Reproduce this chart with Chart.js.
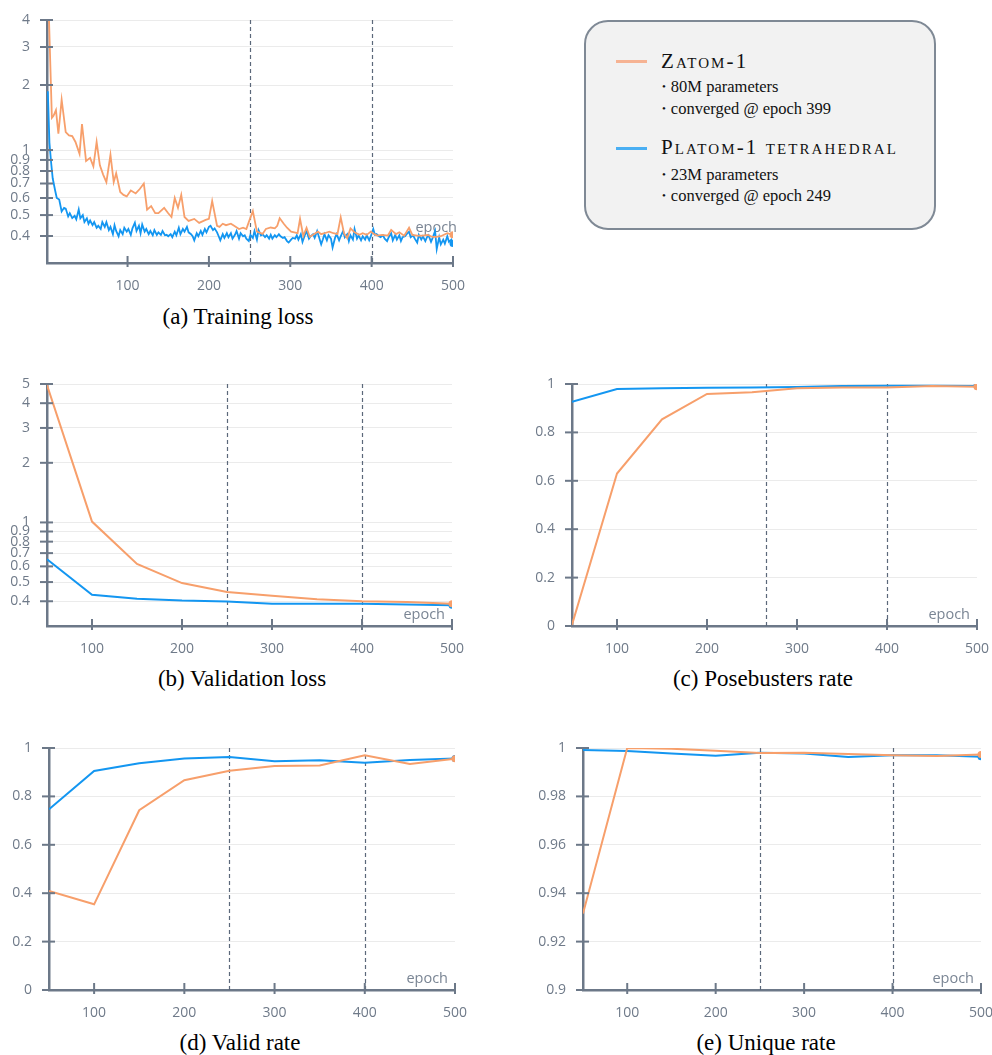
<!DOCTYPE html>
<html>
<head>
<meta charset="utf-8">
<script src="https://cdn.jsdelivr.net/npm/chart.js@4.4.1/dist/chart.umd.min.js"></script>
<style>
  body { margin:0; background:#fff; width:992px; height:1055px; position:relative; overflow:hidden; }
  .panel { position:absolute; }
  .cap { position:absolute; font-family:"Liberation Serif", serif; font-size:23px; line-height:1; color:#000; white-space:nowrap; transform:translateX(-50%); }
  #legendBox { position:absolute; left:584px; top:20px; width:352px; height:210px; box-sizing:border-box; background:#f2f2f2; border:2px solid #7f8995; border-radius:24px; }
  .lg { position:absolute; font-family:"Liberation Serif", serif; line-height:1; color:#111; white-space:nowrap; }
  .name { font-size:21px; font-variant:small-caps; letter-spacing:2.1px; }
  .item { font-size:16.5px; }
  .dot { font-size:11px; position:relative; top:-2px; margin-right:5px; }
  .swatch { position:absolute; left:616px; width:31px; height:3px; }
</style>
</head>
<body>
<div class="panel" style="left:0;top:0"><canvas id="trainLoss" width="470" height="300"></canvas></div>
<div class="panel" style="left:0;top:360px"><canvas id="valLoss" width="470" height="300"></canvas></div>
<div class="panel" style="left:510px;top:360px"><canvas id="pose" width="482" height="300"></canvas></div>
<div class="panel" style="left:0;top:725px"><canvas id="valid" width="470" height="300"></canvas></div>
<div class="panel" style="left:510px;top:725px"><canvas id="unique" width="482" height="300"></canvas></div>

<div class="cap" style="left:238px;top:305px">(a) Training loss</div>
<div class="cap" style="left:242px;top:667px">(b) Validation loss</div>
<div class="cap" style="left:763px;top:667px">(c) Posebusters rate</div>
<div class="cap" style="left:240px;top:1031px">(d) Valid rate</div>
<div class="cap" style="left:766px;top:1031px">(e) Unique rate</div>

<div id="legendBox"></div>
<div class="swatch" style="top:60px;background:#f6b393"></div>
<div class="lg name" style="left:661px;top:51px">Zatom-1</div>
<div class="lg item" style="left:662px;top:79px"><span class="dot">•</span>80M parameters</div>
<div class="lg item" style="left:662px;top:101px"><span class="dot">•</span>converged @ epoch 399</div>
<div class="swatch" style="top:147px;background:#4aaff3"></div>
<div class="lg name" style="left:661px;top:137px">Platom-1 tetrahedral</div>
<div class="lg item" style="left:662px;top:167px"><span class="dot">•</span>23M parameters</div>
<div class="lg item" style="left:662px;top:188px"><span class="dot">•</span>converged @ epoch 249</div>

<script>
// training loss, Zatom-1 (orange)
const trainEpochsZ = [3,7,9,12,15,19,24,28,32,36,41,44,49,54,58,62,66,70,74,79,83,86,91,95,99,104,110,115,120,124,129,134,138,145,150,154,158,162,166,170,175,182,188,196,200,204,210,213,217,221,227,231,237,242,246,249,254,259,266,270,276,281,284,287,292,296,301,305,309,312,316,320,324,329,334,338,342,348,353,358,362,366,370,374,379,385,389,394,399,403,407,413,420,424,430,434,440,446,450,456,463,469,475,479,485,493,500];
const trainLossZ = [4.6,1.41,1.44,1.53,1.19,1.71,1.21,1.17,1.16,1.09,0.96,1.32,0.89,0.92,0.84,1.09,0.85,0.77,0.71,0.95,0.71,0.78,0.64,0.62,0.61,0.65,0.63,0.66,0.70,0.53,0.55,0.51,0.51,0.54,0.51,0.49,0.60,0.54,0.62,0.49,0.47,0.48,0.46,0.475,0.48,0.58,0.446,0.441,0.456,0.449,0.456,0.446,0.431,0.437,0.431,0.464,0.522,0.419,0.409,0.431,0.438,0.434,0.446,0.484,0.456,0.437,0.419,0.416,0.412,0.48,0.40,0.437,0.396,0.408,0.419,0.408,0.412,0.419,0.412,0.408,0.488,0.412,0.391,0.434,0.416,0.405,0.412,0.405,0.419,0.408,0.402,0.405,0.402,0.427,0.408,0.416,0.401,0.437,0.405,0.402,0.402,0.405,0.396,0.396,0.399,0.412,0.405];

// training loss, Platom-1 (blue)
const trainEpochsP = [2,4,6,8,11,13,16,19,22,24,27,29,32,35,37,40,42,45,47,50,52,54,57,59,62,64,67,69,72,74,77,79,82,84,86,89,91,94,96,99,101,104,106,109,111,114,116,118,121,123,126,128,131,133,136,138,141,143,146,148,150,153,155,158,160,163,165,168,170,173,175,178,180,
  182,185,187,190,192,195,197,200,202,205,207,210,212,214,217,219,222,224,227,229,232,234,237,239,242,244,246,249,251,254,256,259,261,264,266,269,271,274,276,278,281,283,286,288,291,293,296,298,
  301,303,306,308,310,313,315,318,320,323,325,328,330,333,335,338,340,342,345,347,350,352,355,357,360,362,365,367,370,372,374,377,379,382,384,387,389,392,394,397,399,
  402,404,406,409,411,414,416,419,421,424,426,429,431,434,436,438,441,443,446,448,451,453,456,458,461,463,466,468,470,473,475,478,480,483,485,488,490,493,495,498,500];
const trainLossP = [1.87,1.08,0.88,0.74,0.65,0.60,0.59,0.52,0.54,0.536,0.493,0.51,0.484,0.496,0.478,0.531,0.483,0.50,0.464,0.483,0.456,0.472,0.449,0.464,0.437,0.446,0.431,0.464,0.441,0.464,0.426,0.441,0.408,0.449,0.422,0.399,0.426,0.408,0.437,0.419,0.431,0.405,0.434,0.461,0.422,0.446,0.412,0.452,0.419,0.431,0.408,0.422,0.403,0.426,0.405,0.416,0.405,0.422,0.403,0.405,0.399,0.408,0.395,0.419,0.403,0.437,0.408,0.431,0.419,0.441,0.416,0.408,0.399,
  0.382,0.412,0.399,0.422,0.405,0.431,0.416,0.441,0.446,0.426,0.434,0.416,0.399,0.382,0.408,0.392,0.412,0.395,0.412,0.389,0.405,0.422,0.389,0.412,0.399,0.403,0.389,0.379,0.405,0.392,0.422,0.385,0.426,0.403,0.408,0.395,0.403,0.389,0.405,0.389,0.403,0.395,0.408,0.399,0.392,0.395,0.379,0.373,
  0.385,0.392,0.389,0.403,0.385,0.408,0.376,0.405,0.422,0.389,0.399,0.408,0.392,0.422,0.399,0.366,0.385,0.408,0.382,0.403,0.389,0.354,0.392,0.408,0.382,0.399,0.422,0.395,0.408,0.379,0.403,0.385,0.431,0.389,0.403,0.382,0.399,0.385,0.403,0.382,0.399,
  0.431,0.405,0.408,0.399,0.395,0.403,0.389,0.379,0.395,0.412,0.382,0.405,0.385,0.403,0.379,0.395,0.399,0.408,0.419,0.395,0.403,0.389,0.373,0.405,0.385,0.399,0.379,0.395,0.403,0.376,0.392,0.422,0.348,0.395,0.366,0.385,0.369,0.399,0.376,0.385,0.369];

// evaluation every 50 epochs
const evalEpochs = [50,100,150,200,250,300,350,400,450,500];
const valLossZ = [4.94,1.01,0.617,0.494,0.446,0.426,0.41,0.40,0.397,0.389];
const valLossP = [0.652,0.431,0.412,0.403,0.399,0.389,0.389,0.388,0.385,0.382];
const poseZ = [0.005,0.630,0.854,0.959,0.966,0.982,0.986,0.986,0.992,0.989];
const poseP = [0.926,0.979,0.982,0.985,0.986,0.988,0.992,0.993,0.993,0.992];
const validZ = [0.409,0.354,0.743,0.867,0.906,0.926,0.928,0.970,0.934,0.956];
const validP = [0.747,0.905,0.937,0.957,0.963,0.945,0.949,0.939,0.950,0.957];
const uniqueZ = [0.9316,1.0,0.9997,0.9989,0.9979,0.998,0.9975,0.997,0.9967,0.9973];
const uniqueP = [0.9992,0.9988,0.9977,0.9968,0.998,0.9977,0.9963,0.997,0.997,0.9964];

// ticks and markers
const epochTicks = [100,200,300,400,500];
const trainLossTicks = [0.4,0.5,0.6,0.7,0.8,0.9,1,2,3,4];
const valLossTicks = [0.4,0.5,0.6,0.7,0.8,0.9,1,2,3,4,5];
const rateTicks = [0,0.2,0.4,0.6,0.8,1];
const uniqueTicks = [0.9,0.92,0.94,0.96,0.98,1];
const convergedMarks = [250,400];
const poseMarks = [266,400];

const ZATOM = '#f79f6b';
const PLATOM = '#1396f1';
const AXIS = '#6c7888';
const TICK = '#6f7a89';

function pairs(xs, ys) {
  return xs.map((x, i) => ({x: x, y: ys[i]}));
}

function lineSet(label, xs, ys, color, width) {
  return {
    label: label,
    data: pairs(xs, ys),
    borderColor: color,
    backgroundColor: color,
    borderWidth: width,
    tension: 0,
    fill: false,
    pointRadius: ctx => ctx.dataIndex === ys.length - 1 ? 3.5 : 0,
    pointBorderWidth: 0,
    pointHoverRadius: 0
  };
}

// dashed epoch markers, "epoch" label and ticks crossing the axes
const panelDecor = {
  id: 'panelDecor',
  beforeDatasetsDraw(chart, args, opts) {
    const ctx = chart.ctx, a = chart.chartArea, x = chart.scales.x;
    ctx.save();
    ctx.strokeStyle = '#5b687a';
    ctx.lineWidth = 1.2;
    ctx.setLineDash([4, 3]);
    (opts.marks || []).forEach(m => {
      const px = Math.round(x.getPixelForValue(m)) + 0.5;
      ctx.beginPath(); ctx.moveTo(px, a.top); ctx.lineTo(px, a.bottom); ctx.stroke();
    });
    ctx.setLineDash([]);
    ctx.font = '14.5px "Open Sans"';
    ctx.textAlign = 'right';
    ctx.textBaseline = 'alphabetic';
    const tx = a.right + opts.dx, ty = a.bottom + opts.dy;
    const w = ctx.measureText('epoch').width;
    ctx.fillStyle = '#fff';
    ctx.fillRect(tx - w - 4, ty - 13, w + 8, 17);
    ctx.fillStyle = '#7a8594';
    ctx.fillText('epoch', tx, ty);
    ctx.restore();
  },
  afterDraw(chart) {
    const ctx = chart.ctx, a = chart.chartArea, x = chart.scales.x, y = chart.scales.y;
    ctx.save();
    ctx.strokeStyle = AXIS;
    ctx.lineWidth = 2;
    y.ticks.forEach(t => {
      const py = y.getPixelForValue(t.value);
      ctx.beginPath(); ctx.moveTo(a.left - 7, py); ctx.lineTo(a.left + 6, py); ctx.stroke();
    });
    x.ticks.forEach(t => {
      const px = x.getPixelForValue(t.value);
      ctx.beginPath(); ctx.moveTo(px, a.bottom - 7); ctx.lineTo(px, a.bottom + 4); ctx.stroke();
    });
    ctx.restore();
  }
};

function makePanel(id, p) {
  const tickFont = {family: 'Open Sans', size: 14};
  new Chart(document.getElementById(id), {
    type: 'line',
    data: {
      datasets: [
        lineSet('Zatom-1', p.xs, p.zatom, ZATOM, p.lw),
        lineSet('Platom-1 tetrahedral', p.xsP || p.xs, p.platom, PLATOM, p.lw)
      ]
    },
    options: {
      responsive: false,
      animation: false,
      devicePixelRatio: 1,
      layout: {padding: {top: p.top, right: p.right, bottom: 0, left: 0}},
      plugins: {
        legend: {display: false},
        tooltip: {enabled: false},
        panelDecor: {marks: p.marks, dx: p.ex, dy: p.ey}
      },
      scales: {
        x: {
          type: 'linear', min: p.xmin, max: 500,
          afterBuildTicks: ax => { ax.ticks = epochTicks.map(v => ({value: v})); },
          afterFit: ax => { ax.height = p.xh; ax.paddingLeft = 0; ax.paddingRight = 0; },
          grid: {display: false, drawTicks: false},
          border: {color: AXIS, width: 2.5},
          ticks: {padding: 15, color: TICK, font: tickFont, autoSkip: false, maxRotation: 0, callback: v => String(v)}
        },
        y: {
          type: p.ytype, min: p.ymin, max: p.ymax,
          afterBuildTicks: ax => { ax.ticks = p.yticks.map(v => ({value: v})); },
          afterFit: ax => { ax.width = p.yw; ax.paddingTop = 0; ax.paddingBottom = 0; },
          grid: {color: '#ebebeb', lineWidth: 1, drawTicks: false},
          border: {color: AXIS, width: 2.5},
          ticks: {padding: 17, color: TICK, font: tickFont, autoSkip: false, callback: v => String(v)}
        }
      }
    },
    plugins: [panelDecor]
  });
}

makePanel('trainLoss', {
  xs: trainEpochsZ, zatom: trainLossZ, xsP: trainEpochsP, platom: trainLossP, lw: 1.8,
  xmin: 1, ytype: 'logarithmic', ymin: 0.344, ymax: 4, yticks: trainLossTicks,
  yw: 47, xh: 37, top: 20, right: 17, marks: convergedMarks, ex: 4, ey: -31
});
makePanel('valLoss', {
  xs: evalEpochs, zatom: valLossZ, platom: valLossP, lw: 2,
  xmin: 50, ytype: 'logarithmic', ymin: 0.347, ymax: 5, yticks: valLossTicks,
  yw: 47, xh: 34, top: 24, right: 18, marks: convergedMarks, ex: -7, ey: -7
});
makePanel('pose', {
  xs: evalEpochs, zatom: poseZ, platom: poseP, lw: 2,
  xmin: 50, ytype: 'linear', ymin: 0, ymax: 1, yticks: rateTicks,
  yw: 62, xh: 34, top: 24, right: 15, marks: poseMarks, ex: -7, ey: -7
});
makePanel('valid', {
  xs: evalEpochs, zatom: validZ, platom: validP, lw: 2,
  xmin: 50, ytype: 'linear', ymin: 0, ymax: 1, yticks: rateTicks,
  yw: 49, xh: 35, top: 23, right: 15, marks: convergedMarks, ex: -7, ey: -7
});
makePanel('unique', {
  xs: evalEpochs, zatom: uniqueZ, platom: uniqueP, lw: 2,
  xmin: 50, ytype: 'linear', ymin: 0.9, ymax: 1, yticks: uniqueTicks,
  yw: 73, xh: 35, top: 23, right: 11, marks: convergedMarks, ex: -7, ey: -7
});
</script>
</body>
</html>
